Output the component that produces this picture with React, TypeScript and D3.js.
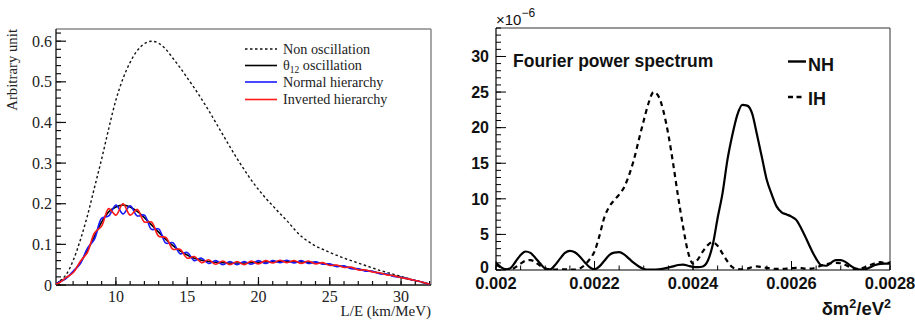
import React from 'react';
import * as d3 from 'd3';

// ---------- Left panel data: L/E (km/MeV) ----------
const LE = [5.8, 6, 6.5, 7, 7.5, 8, 8.5, 9, 9.5, 10, 10.5, 11, 11.5, 12, 12.5, 13, 13.5, 14, 14.5, 15, 15.5, 16, 16.5, 17, 17.5, 18, 18.5, 19, 19.5, 20, 20.5, 21, 21.5, 22, 22.5, 23, 23.5, 24, 24.5, 25, 25.5, 26, 26.5, 27, 27.5, 28, 28.5, 29, 29.5, 30, 30.5, 31, 31.5, 32];
const nonOsc = [0.003, 0.008, 0.025, 0.06, 0.11, 0.17, 0.24, 0.31, 0.385, 0.455, 0.508, 0.548, 0.577, 0.594, 0.6, 0.595, 0.58, 0.558, 0.535, 0.51, 0.485, 0.458, 0.43, 0.4, 0.37, 0.34, 0.311, 0.284, 0.258, 0.235, 0.214, 0.195, 0.176, 0.158, 0.138, 0.12, 0.107, 0.096, 0.088, 0.08, 0.073, 0.066, 0.06, 0.054, 0.048, 0.042, 0.036, 0.031, 0.026, 0.021, 0.016, 0.011, 0.006, 0.002];
const theta12 = [0.003, 0.006, 0.017, 0.032, 0.055, 0.085, 0.12, 0.155, 0.18, 0.192, 0.197, 0.192, 0.181, 0.166, 0.148, 0.13, 0.112, 0.097, 0.084, 0.074, 0.066, 0.061, 0.058, 0.056, 0.055, 0.054, 0.054, 0.054, 0.055, 0.056, 0.057, 0.057, 0.058, 0.058, 0.057, 0.057, 0.056, 0.055, 0.053, 0.05, 0.047, 0.045, 0.042, 0.039, 0.036, 0.033, 0.029, 0.026, 0.022, 0.019, 0.015, 0.011, 0.007, 0.002];
const normalH = [0.003, 0.007, 0.016, 0.034, 0.052, 0.09, 0.113, 0.164, 0.17, 0.197, 0.175, 0.195, 0.17, 0.172, 0.137, 0.138, 0.103, 0.104, 0.077, 0.08, 0.06, 0.066, 0.053, 0.06, 0.05, 0.058, 0.05, 0.058, 0.051, 0.06, 0.053, 0.06, 0.055, 0.061, 0.054, 0.06, 0.053, 0.057, 0.051, 0.052, 0.045, 0.047, 0.04, 0.04, 0.034, 0.034, 0.028, 0.027, 0.021, 0.019, 0.015, 0.011, 0.007, 0.002];
const invertedH = [0.003, 0.005, 0.018, 0.03, 0.058, 0.08, 0.128, 0.145, 0.188, 0.172, 0.2, 0.172, 0.186, 0.155, 0.155, 0.12, 0.117, 0.088, 0.088, 0.066, 0.07, 0.055, 0.062, 0.051, 0.059, 0.05, 0.058, 0.05, 0.059, 0.052, 0.06, 0.054, 0.061, 0.055, 0.06, 0.053, 0.059, 0.052, 0.055, 0.048, 0.049, 0.043, 0.044, 0.037, 0.037, 0.032, 0.03, 0.025, 0.023, 0.018, 0.015, 0.011, 0.007, 0.002];
const leftYTicks = [0, 0.1, 0.2, 0.3, 0.4, 0.5, 0.6];
const leftXTicks = [10, 15, 20, 25, 30];

// ---------- Right panel data: delta m^2 (eV^2), power (x1e-6) ----------
const dm2 = [0.00200, 0.00201, 0.00202, 0.00203, 0.00204, 0.00205, 0.00206, 0.00207, 0.00208, 0.00209,
  0.00210, 0.00211, 0.00212, 0.00213, 0.00214, 0.00215, 0.00216, 0.00217, 0.00218, 0.00219,
  0.00220, 0.00221, 0.00222, 0.00223, 0.00224, 0.00225, 0.00226, 0.00227, 0.00228, 0.00229,
  0.00230, 0.00231, 0.00232, 0.00233, 0.00234, 0.00235, 0.00236, 0.00237, 0.00238, 0.00239,
  0.00240, 0.00241, 0.00242, 0.00243, 0.00244, 0.00245, 0.00246, 0.00247, 0.00248, 0.00249,
  0.00250, 0.00251, 0.00252, 0.00253, 0.00254, 0.00255, 0.00256, 0.00257, 0.00258, 0.00259,
  0.00260, 0.00261, 0.00262, 0.00263, 0.00264, 0.00265, 0.00266, 0.00267, 0.00268, 0.00269,
  0.00270, 0.00271, 0.00272, 0.00273, 0.00274, 0.00275, 0.00276, 0.00277, 0.00278, 0.00279, 0.00280];
const nhPower = [1.0, 0.4, 0.05, 0.3, 1.2, 2.1, 2.6, 2.4, 1.7, 0.9,
  0.2, 0.1, 0.7, 1.6, 2.4, 2.7, 2.5, 1.9, 1.1, 0.4,
  0.1, 0.5, 1.3, 2.1, 2.45, 2.5, 2.2, 1.6, 1.0, 0.5,
  0.15, 0.05, 0.05, 0.1, 0.2, 0.35, 0.5, 0.7, 0.75, 0.6,
  0.45, 0.4, 0.5, 1.3, 3.5, 7.3, 10.8, 15.5, 19.0, 21.8,
  23.2, 23.1, 22.0, 19.0, 15.8, 12.6, 10.6, 8.9, 8.1, 7.8,
  7.5, 7.0, 5.8, 4.4, 2.9, 1.6, 0.7, 0.6, 1.0, 1.4,
  1.4, 1.1, 0.6, 0.2, 0.05, 0.1, 0.4, 0.7, 0.85, 0.9, 0.9];
const ihPower = [0.7, 0.4, 0.1, 0.05, 0.4, 0.9, 1.3, 1.4, 1.1, 0.6,
  0.2, 0.05, 0.05, 0.1, 0.1, 0.05, 0.05, 0.2, 0.7, 1.5,
  2.6, 4.8, 7.4, 8.9, 9.8, 10.6, 11.6, 13.3, 15.5, 18.3,
  21.0, 23.5, 25.0, 24.4, 22.3, 19.0, 14.8, 10.2, 6.0, 2.5,
  0.9, 1.5, 2.6, 3.5, 3.9, 3.4, 2.3, 1.2, 0.4, 0.15,
  0.1, 0.2, 0.4, 0.5, 0.4, 0.3, 0.2, 0.15, 0.15, 0.2,
  0.25, 0.3, 0.25, 0.2, 0.2, 0.35, 0.6, 0.8, 0.95, 1.0,
  0.95, 0.7, 0.35, 0.15, 0.2, 0.4, 0.7, 0.95, 1.1, 1.0, 1.0];
const rightYTicks = [0, 5, 10, 15, 20, 25, 30];
const rightXTicks = [0.002, 0.0022, 0.0024, 0.0026, 0.0028];
const rightXLabels = ['0.002', '0.0022', '0.0024', '0.0026', '0.0028'];

export default function App() {
  const W = 915, H = 320;
  // Left panel scales
  const xL = d3.scaleLinear().domain([5.8, 32.1]).range([56, 431]);
  const yL = d3.scaleLinear().domain([0, 0.63]).range([285, 29]);
  const lineL = (vals: number[]) =>
    d3.line<number>().x((_, i) => xL(LE[i])).y((v) => yL(v)).curve(d3.curveCatmullRom.alpha(0.5))(vals) || '';

  // Right panel scales
  const xR = d3.scaleLinear().domain([0.002, 0.0028]).range([496, 890]);
  const yR = d3.scaleLinear().domain([0, 34]).range([270, 28]);
  const lineR = (vals: number[]) =>
    d3.line<number>().x((_, i) => xR(dm2[i])).y((v) => yR(v)).curve(d3.curveMonotoneX)(vals) || '';

  const serif = "'Liberation Serif', 'Times New Roman', serif";
  const sans = "'Liberation Sans', Arial, Helvetica, sans-serif";

  const lxMinor = d3.range(6, 33, 1);
  const lyMinor = d3.range(0, 0.63, 0.02);
  const rxMinor = d3.range(0, 17).map((i) => 0.002 + i * 0.00005);
  const ryMinor = d3.range(0, 35, 1);

  return (
    <svg width={W} height={H} style={{ position: 'absolute', left: 0, top: 0, background: '#fff' }}>
      <defs>
        <clipPath id="clipL"><rect x={56} y={29} width={375} height={256} /></clipPath>
        <clipPath id="clipR"><rect x={496} y={28} width={394} height={242} /></clipPath>
      </defs>

      {/* ================= LEFT PANEL ================= */}
      <g>
        {/* frame */}
        <line x1={56} y1={29} x2={431} y2={29} stroke="#888" strokeWidth={1.5} />
        <line x1={431} y1={29} x2={431} y2={285} stroke="#888" strokeWidth={1.5} />
        <line x1={56} y1={29} x2={56} y2={285} stroke="#111" strokeWidth={1.3} />
        <line x1={56} y1={285} x2={431} y2={285} stroke="#111" strokeWidth={1.3} />
        {/* y ticks */}
        {lyMinor.map((v, i) => (
          <line key={'lym' + i} x1={56} x2={61} y1={yL(v)} y2={yL(v)} stroke="#111" strokeWidth={1.2} />
        ))}
        {leftYTicks.map((v) => (
          <g key={'lyt' + v}>
            <line x1={56} x2={66} y1={yL(v)} y2={yL(v)} stroke="#111" strokeWidth={1.2} />
            <text x={52} y={yL(v)} dy="0.35em" textAnchor="end" fontFamily={serif} fontSize={16} fill="#222">
              {v === 0 ? '0' : d3.format('.1f')(v)}
            </text>
          </g>
        ))}
        {/* x ticks */}
        {lxMinor.map((v) => (
          <line key={'lxm' + v} x1={xL(v)} x2={xL(v)} y1={285} y2={281} stroke="#111" strokeWidth={1.2} />
        ))}
        {leftXTicks.map((v) => (
          <g key={'lxt' + v}>
            <line x1={xL(v)} x2={xL(v)} y1={285} y2={277} stroke="#111" strokeWidth={1.2} />
            <text x={xL(v)} y={301.5} textAnchor="middle" fontFamily={serif} fontSize={16} fill="#222">{v}</text>
          </g>
        ))}
        {/* axis titles */}
        <text x={431} y={316} textAnchor="end" fontFamily={serif} fontSize={15} fill="#222">L/E (km/MeV)</text>
        <text transform="translate(17,29) rotate(-90)" textAnchor="end" fontFamily={serif} fontSize={14.8} fill="#222">Arbitrary unit</text>

        {/* curves */}
        <g clipPath="url(#clipL)" fill="none">
          <path d={lineL(nonOsc)} stroke="#111" strokeWidth={1.4} strokeDasharray="2.5,2.5" />
          <path d={lineL(theta12)} stroke="#000" strokeWidth={1.6} />
          <path d={lineL(normalH)} stroke="#1a1aff" strokeWidth={1.6} />
          <path d={lineL(invertedH)} stroke="#ff1a1a" strokeWidth={1.6} />
        </g>

        {/* legend */}
        <g fontFamily={serif} fontSize={14.2} fill="#222">
          <line x1={245} x2={277} y1={49} y2={49} stroke="#111" strokeWidth={1.3} strokeDasharray="2.5,2.5" />
          <text x={283} y={53.5}>Non oscillation</text>
          <line x1={245} x2={277} y1={65.5} y2={65.5} stroke="#000" strokeWidth={1.6} />
          <text x={283} y={70}>
            θ<tspan fontSize={9.5} dy={3}>12</tspan><tspan dy={-3}> oscillation</tspan>
          </text>
          <line x1={245} x2={277} y1={82} y2={82} stroke="#1a1aff" strokeWidth={1.6} />
          <text x={283} y={86.5}>Normal hierarchy</text>
          <line x1={245} x2={277} y1={99.5} y2={99.5} stroke="#ff1a1a" strokeWidth={1.6} />
          <text x={283} y={104}>Inverted hierarchy</text>
        </g>
      </g>

      {/* ================= RIGHT PANEL ================= */}
      <g>
        <line x1={496} y1={28} x2={890} y2={28} stroke="#333" strokeWidth={1} />
        <line x1={890} y1={28} x2={890} y2={270} stroke="#333" strokeWidth={1} />
        <line x1={496} y1={28} x2={496} y2={270} stroke="#000" strokeWidth={1.2} />
        <line x1={496} y1={270} x2={890} y2={270} stroke="#000" strokeWidth={1.2} />
        {ryMinor.map((v) => (
          <line key={'rym' + v} x1={496} x2={501} y1={yR(v)} y2={yR(v)} stroke="#000" strokeWidth={1} />
        ))}
        {rightYTicks.map((v) => (
          <g key={'ryt' + v}>
            <line x1={496} x2={506} y1={yR(v)} y2={yR(v)} stroke="#000" strokeWidth={1} />
            <text x={489} y={v === 0 ? yR(v) - 3 : yR(v)} dy="0.36em" textAnchor="end" fontFamily={sans} fontWeight="bold" fontSize={16} fill="#111">{v}</text>
          </g>
        ))}
        {rxMinor.map((v, i) => (
          <line key={'rxm' + i} x1={xR(v)} x2={xR(v)} y1={270} y2={265.5} stroke="#000" strokeWidth={1} />
        ))}
        {rightXTicks.map((v, i) => (
          <g key={'rxt' + i}>
            <line x1={xR(v)} x2={xR(v)} y1={270} y2={261} stroke="#000" strokeWidth={1} />
            <text x={xR(v)} y={289} textAnchor="middle" fontFamily={sans} fontWeight="bold" fontSize={16.5} fill="#111">{rightXLabels[i]}</text>
          </g>
        ))}
        {/* exponent */}
        <text x={496} y={25} fontFamily={sans} fontSize={15} fill="#111">
          ×10<tspan fontSize={12} dy={-8}>−6</tspan>
        </text>
        {/* x title */}
        <text x={891} y={315} textAnchor="end" fontFamily={sans} fontWeight="bold" fontSize={18.5} fill="#111">
          δm<tspan fontSize={12.5} dy={-7.5}>2</tspan><tspan dy={7.5}>/eV</tspan><tspan fontSize={12.5} dy={-7.5}>2</tspan>
        </text>
        {/* title */}
        <text x={513} y={67} fontFamily={sans} fontWeight="bold" fontSize={17.5} fill="#111">Fourier power spectrum</text>

        {/* curves */}
        <g clipPath="url(#clipR)" fill="none">
          <path d={lineR(ihPower)} stroke="#000" strokeWidth={2.2} strokeDasharray="5,4" />
          <path d={lineR(nhPower)} stroke="#000" strokeWidth={2.2} />
        </g>

        {/* legend */}
        <line x1={788} x2={806} y1={61.5} y2={61.5} stroke="#000" strokeWidth={2.4} />
        <text x={808} y={70.5} fontFamily={sans} fontWeight="bold" fontSize={18} fill="#111">NH</text>
        <line x1={788} x2={804} y1={97} y2={97} stroke="#000" strokeWidth={2.4} strokeDasharray="5,3.5" />
        <text x={808} y={105} fontFamily={sans} fontWeight="bold" fontSize={18} fill="#111">IH</text>
      </g>
    </svg>
  );
}
